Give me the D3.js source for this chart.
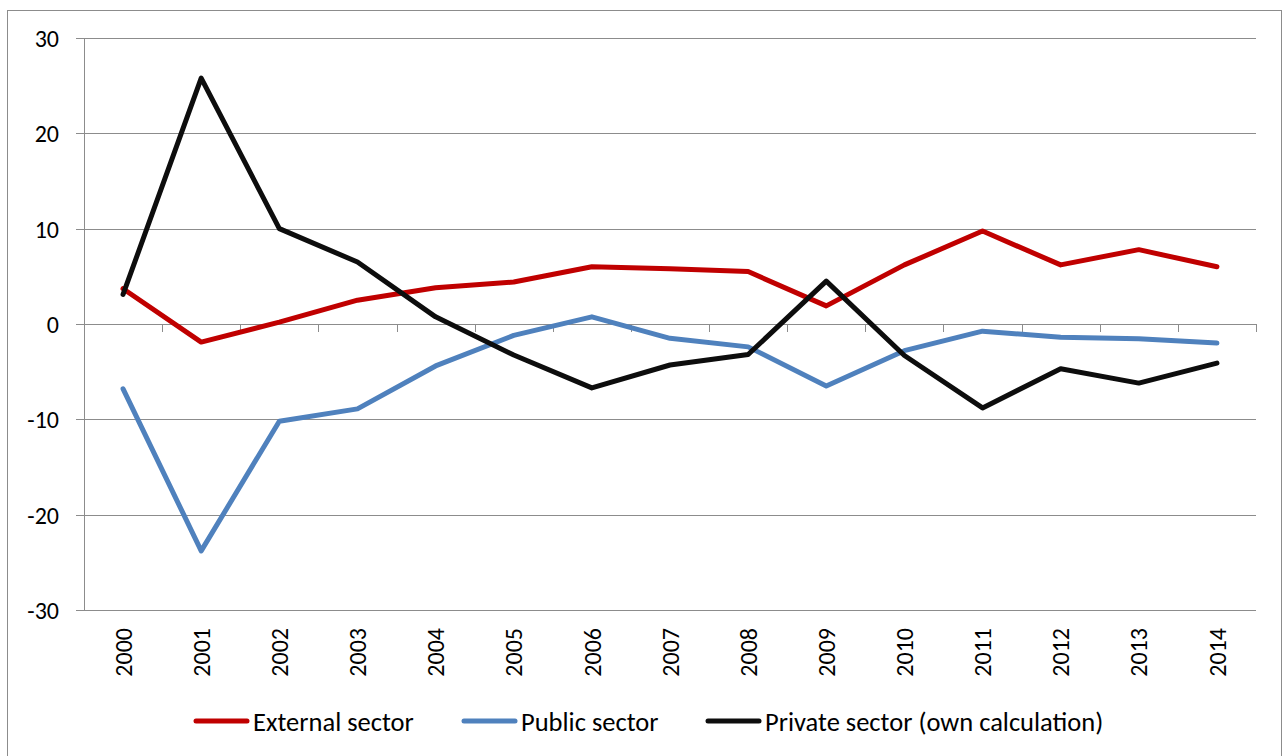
<!DOCTYPE html>
<html>
<head>
<meta charset="utf-8">
<script src="https://cdn.jsdelivr.net/npm/d3@7"></script>
<style>
  body { margin: 0; background: #fff; }
  svg text { font-family: Carlito, Lato, 'Open Sans', sans-serif; fill: #000; }
</style>
</head>
<body>
<div id="chart"></div>
<script>
'use strict';

// Data
const years = ['2000', '2001', '2002', '2003', '2004', '2005', '2006', '2007',
    '2008', '2009', '2010', '2011', '2012', '2013', '2014'];
const externalSector = [3.7, -1.9, 0.2, 2.5, 3.8, 4.4, 6.0, 5.8, 5.5, 1.9, 6.2, 9.75, 6.2, 7.8, 6.0];
const publicSector = [-6.8, -23.8, -10.2, -8.9, -4.4, -1.2, 0.75, -1.5, -2.4, -6.5, -2.8, -0.75, -1.4, -1.55, -2.0];
const privateSector = [3.1, 25.8, 10.0, 6.5, 0.75, -3.25, -6.7, -4.3, -3.2, 4.5, -3.3, -8.8, -4.7, -6.2, -4.1];
const yTicks = [30, 20, 10, 0, -10, -20, -30];

const series = [
    {name: 'External sector', values: externalSector, color: '#C00000'},
    {name: 'Public sector', values: publicSector, color: '#4F81BD'},
    {name: 'Private sector (own calculation)', values: privateSector, color: '#0D0D0D'}
];

// Config
const w = 1285;
const h = 756;
const margin = {top: 38, right: 29, bottom: 146, left: 84};
const gridColor = '#8C8C8C';

const svg = d3.select('#chart')
    .append('svg')
    .attr('width', w)
    .attr('height', h);

// Outer frame
svg.append('rect')
    .attr('x', 7.5)
    .attr('y', 10.5)
    .attr('width', 1274)
    .attr('height', 780)
    .attr('fill', '#fff')
    .attr('stroke', '#8C8C8C');

// Scales
const x = d3.scaleBand()
    .domain(years)
    .range([margin.left, w - margin.right])
    .paddingInner(0)
    .paddingOuter(0);
const y = d3.scaleLinear()
    .domain([-30, 30])
    .range([h - margin.bottom, margin.top]);

// Gridlines + y axis
const yAxis = d3.axisLeft(y)
    .tickValues(yTicks)
    .tickSize(-(w - margin.right - margin.left))
    .tickPadding(25)
    .tickFormat(d => String(d));
const yG = svg.append('g')
    .attr('transform', `translate(${margin.left},0)`)
    .call(yAxis);
yG.select('.domain').remove();
yG.selectAll('.tick line')
    .attr('x1', -8)
    .attr('stroke', gridColor)
    .attr('shape-rendering', 'crispEdges');
yG.selectAll('.tick text')
    .attr('font-size', 24)
    .attr('dy', '0.36em');

svg.append('line')
    .attr('x1', margin.left + 0.5)
    .attr('x2', margin.left + 0.5)
    .attr('y1', y(30))
    .attr('y2', y(-30))
    .attr('stroke', gridColor);

// Category ticks on the zero line
const bounds = years.map(d => x(d) + x.bandwidth());
svg.append('g')
    .selectAll('line')
    .data(bounds)
    .join('line')
    .attr('x1', d => Math.round(d) + 0.5)
    .attr('x2', d => Math.round(d) + 0.5)
    .attr('y1', y(0))
    .attr('y2', y(0) + 8)
    .attr('stroke', gridColor);

// Year labels
svg.append('g')
    .selectAll('text')
    .data(years)
    .join('text')
    .attr('transform', d => `translate(${x(d) + x.bandwidth() / 2},628) rotate(-90)`)
    .attr('text-anchor', 'end')
    .attr('dy', '0.36em')
    .attr('font-size', 24)
    .text(d => d);

// Lines
const line = d3.line()
    .x((d, i) => x(years[i]) + x.bandwidth() / 2)
    .y(d => y(d));

svg.append('g')
    .selectAll('path')
    .data(series)
    .join('path')
    .attr('d', d => line(d.values))
    .attr('fill', 'none')
    .attr('stroke', d => d.color)
    .attr('stroke-width', 5)
    .attr('stroke-linejoin', 'round')
    .attr('stroke-linecap', 'round');

// Legend
const legendX = [196, 464, 708];
const legendG = svg.append('g')
    .attr('class', 'legendG');
const items = legendG.selectAll('g')
    .data(series)
    .join('g')
    .attr('transform', (d, i) => `translate(${legendX[i]},721)`);
items.append('line')
    .attr('x1', 0)
    .attr('x2', 51)
    .attr('stroke', d => d.color)
    .attr('stroke-width', 5)
    .attr('stroke-linecap', 'round');
items.append('text')
    .attr('x', 57)
    .attr('dy', '0.36em')
    .attr('font-size', 26.5)
    .text(d => d.name);
</script>
</body>
</html>
